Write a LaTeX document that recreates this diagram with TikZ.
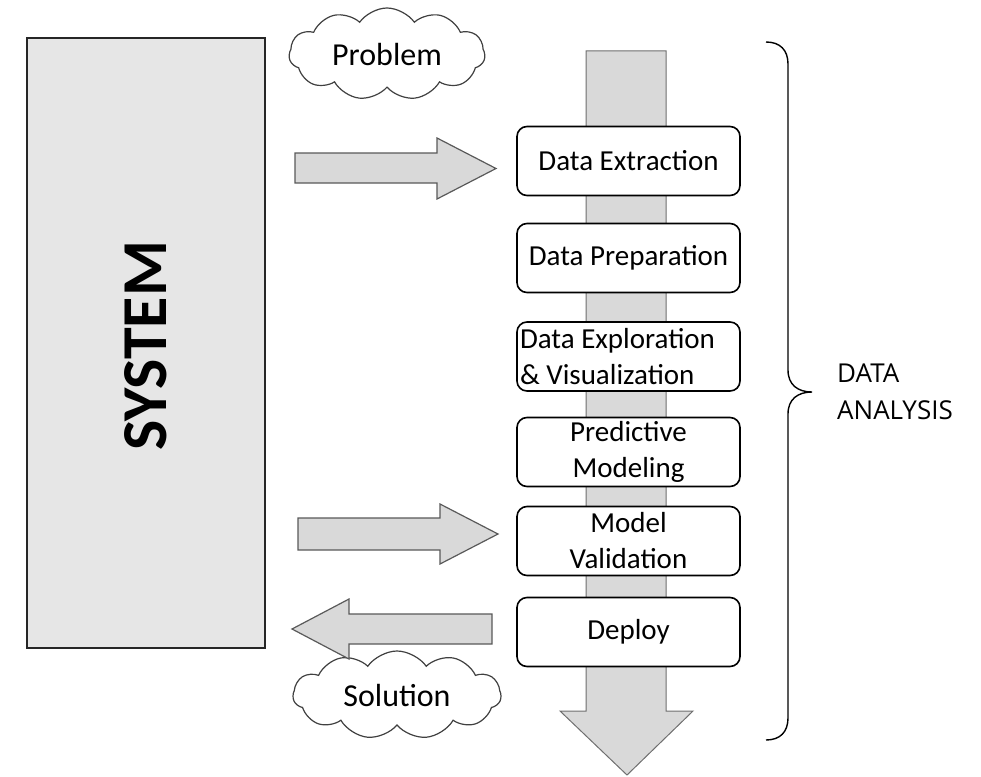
\documentclass[tikz,border=0pt]{standalone}
\usepackage{fontspec}
\setmainfont{Carlito}
\newfontfamily\osans{Open Sans}
\usetikzlibrary{shapes.symbols}
\definecolor{arrowfill}{HTML}{D9D9D9}
\definecolor{arrowline}{HTML}{595959}
\definecolor{shaftline}{HTML}{6F6F6F}
\definecolor{sysfill}{HTML}{E6E6E6}
\begin{document}
\begin{tikzpicture}[x=1pt,y=-1pt,
  blockarrow/.style={fill=arrowfill, draw=arrowline, line width=1.2pt, line join=miter},
  stage/.style={draw=black, line width=1.6pt, rounded corners=10pt, fill=white,
    minimum width=223pt, minimum height=69pt, inner sep=0pt, align=center,
    font=\fontsize{29}{36}\selectfont},
  cloudnode/.style={cloud, cloud puffs=11, cloud puff arc=110, cloud ignores aspect,
    draw=black!75, line width=1.2pt, fill=white, inner sep=0pt,
    font=\fontsize{32}{36}\selectfont},
  sysbox/.style={draw=black!85, line width=1.6pt, fill=sysfill, minimum width=238pt,
    minimum height=610pt, inner sep=0pt}
]
\useasboundingbox (0,0) rectangle (981,776);

% SYSTEM
\node[sysbox] (system) at (146,343) {};
\node[rotate=90, font=\fontsize{64}{64}\selectfont\bfseries] (systemtext) at (146,346) {SYSTEM};

% vertical process arrow
\draw[blockarrow, draw=shaftline, line width=1pt] (586,51) -- (666,51) -- (666,711) -- (693,711)
  -- (627,775) -- (560,711) -- (586,711) -- cycle;

% stages
\node[stage] (s1) at (628.5,161) {Data Extraction};
\node[stage] (s2) at (628.5,258) {Data Preparation};
\node[stage, text width=217pt, align=flush left] (s3) at (628.5,356.5) {Data Exploration\\\& Visualization};
\node[stage] (s4) at (628.5,452) {Predictive\\Modeling};
\node[stage] (s5) at (628.5,541) {Model\\Validation};
\node[stage] (s6) at (628.5,632) {Deploy};

% clouds
\node[cloudnode, minimum width=196pt, minimum height=92pt] (problem) at (387,54) {Problem};
\node[cloudnode, minimum width=208pt, minimum height=88pt] (solution) at (397,695) {Solution};

% horizontal block arrows
\draw[blockarrow] (295,153) -- (437,153) -- (437,138) -- (496,168.5) -- (437,199) -- (437,183) -- (295,183) -- cycle;
\draw[blockarrow] (298,518) -- (440,518) -- (440,504) -- (498,534) -- (440,564) -- (440,550) -- (298,550) -- cycle;
\draw[blockarrow] (492,614) -- (349,614) -- (349,599) -- (292,629) -- (349,659) -- (349,644) -- (492,644) -- cycle;

% brace
\coordinate (btop) at (766,42);
\coordinate (bbot) at (766,740);
\draw[line width=1.4pt] (btop) .. controls (780,42) and (788,50) .. (788,64) -- (788,370)
  .. controls (788,385) and (798,392) .. (812,392) .. controls (798,392) and (788,399) .. (788,414)
  -- (788,718) .. controls (788,732) and (780,740) .. (bbot);

\node[anchor=west, align=left, inner sep=0pt, font=\osans\fontsize{26}{37}\selectfont] (da) at (837,392) {DATA\\ANALYSIS};
\end{tikzpicture}
\end{document}
